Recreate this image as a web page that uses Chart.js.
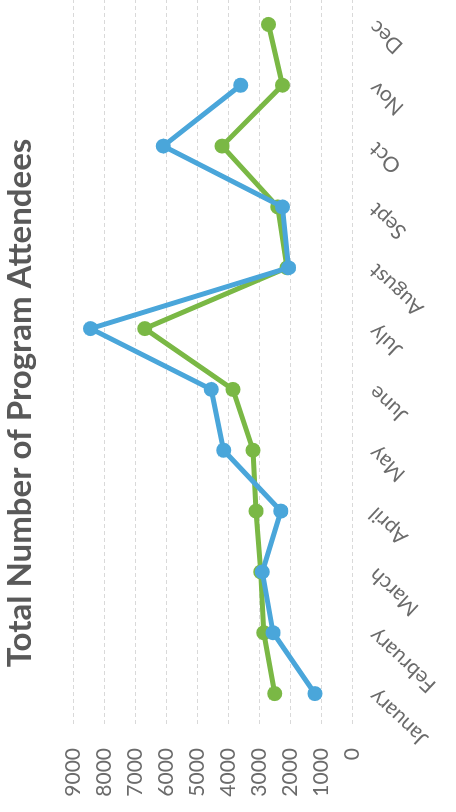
<!DOCTYPE html>
<html>
<head>
<meta charset="utf-8">
<script src="https://cdn.jsdelivr.net/npm/chart.js@4"></script>
<style>
    html, body { margin: 0; padding: 0; background: #fff; overflow: hidden; }
    body { width: 456px; height: 812px; position: relative; }
    /* the chart is drawn landscape and turned a quarter turn, like the scanned page */
    #wrap {
        position: absolute; left: 0; top: 0;
        width: 840px; height: 456px;
        transform-origin: 0 0;
        transform: translate(0, 812px) rotate(-90deg);
    }
</style>
</head>
<body>
<div id="wrap"><canvas id="attendeesChart" width="840" height="456"></canvas></div>
<script>
const months = ['January', 'February', 'March', 'April', 'May', 'June', 'July', 'August', 'Sept', 'Oct', 'Nov', 'Dec'];
const seriesBlue = [1200, 2550, 2900, 2300, 4150, 4550, 8450, 2050, 2250, 6100, 3600, null];
const seriesGreen = [2500, 2850, 2950, 3100, 3200, 3850, 6700, 2100, 2400, 4200, 2250, 2700];
const valueTicks = [0, 1000, 2000, 3000, 4000, 5000, 6000, 7000, 8000, 9000];

document.addEventListener("DOMContentLoaded", function () {

    const colors = {
        blue: '#4aa6da',
        green: '#7ab845',
        title: '#595959',
        tick: '#6b6b6b',
        grid: '#d9d9d9'
    };

    const ctx = document.getElementById('attendeesChart');
    new Chart(ctx, {
        type: 'line',
        data: {
            labels: months,
            datasets: [{
                label: 'Blue',
                data: seriesBlue,
                borderColor: colors.blue,
                backgroundColor: colors.blue,
                pointBackgroundColor: colors.blue,
                borderWidth: 5,
                pointRadius: 7.5,
                pointBorderWidth: 0,
                tension: 0
            }, {
                label: 'Green',
                data: seriesGreen,
                borderColor: colors.green,
                backgroundColor: colors.green,
                pointBackgroundColor: colors.green,
                borderWidth: 5,
                pointRadius: 7.5,
                pointBorderWidth: 0,
                tension: 0
            }]
        },
        options: {
            responsive: false,
            animation: false,
            layout: { padding: { left: 0, right: 22, top: 0, bottom: 0 } },
            plugins: {
                legend: { display: false },
                tooltip: { enabled: false },
                title: {
                    display: true,
                    text: 'Total Number of Program Attendees',
                    color: colors.title,
                    font: { family: 'Lato', size: 33, weight: 'bold' },
                    padding: { top: 1, bottom: 33 }
                }
            },
            scales: {
                x: {
                    offset: true,
                    grid: { display: false },
                    border: { display: false },
                    ticks: {
                        autoSkip: false,
                        minRotation: 47,
                        maxRotation: 47,
                        padding: 4,
                        color: colors.tick,
                        font: { family: 'Lato', size: 21 }
                    },
                    afterFit: function (scale) { scale.height = 104; }
                },
                y: {
                    min: valueTicks[0],
                    max: valueTicks[valueTicks.length - 1],
                    afterBuildTicks: function (scale) {
                        scale.ticks = valueTicks.map(v => ({ value: v }));
                    },
                    grid: {
                        color: colors.grid,
                        drawTicks: false,
                        lineWidth: 1
                    },
                    border: { display: false, dash: [4, 3] },
                    ticks: {
                        padding: 24,
                        color: colors.tick,
                        font: { family: 'Lato', size: 21 },
                        callback: function (value) { return String(value); }
                    },
                    afterFit: function (scale) { scale.width = 88; }
                }
            }
        }
    });
});
</script>
</body>
</html>
